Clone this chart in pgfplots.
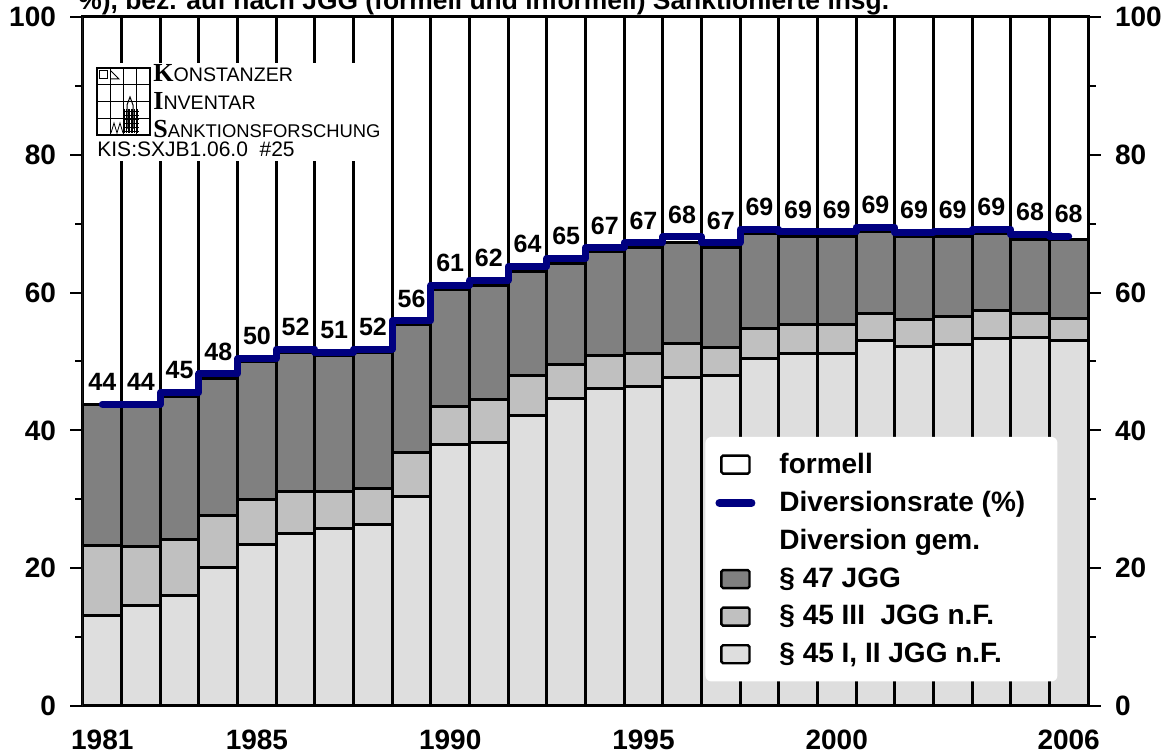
\documentclass[border=0pt]{standalone}
\usepackage{fontspec}
\setmainfont{Liberation Sans}
\newfontfamily\serifb{Liberation Serif}
\usepackage{pgfplots}
\pgfplotsset{compat=1.18}
\usepackage{pgfplotstable}
\usetikzlibrary{calc}

\definecolor{lightb}{HTML}{DEDEDE}
\definecolor{midb}{HTML}{C0C0C0}
\definecolor{darkb}{HTML}{808080}
\definecolor{navyl}{HTML}{000080}

% a = § 45 I,II ; b = § 45 III ; c = § 47 ; d = formell ; r = Diversionsrate
\pgfplotstableread{
year a b c d r lab
1981 13.1 10.2 20.5 56.2 43.8 44
1982 14.6 8.5 20.6 56.3 43.8 44
1983 16.1 8.0 20.8 55.1 45.5 45
1984 20.1 7.5 20.0 52.4 48.2 48
1985 23.5 6.5 20.0 50.0 50.4 50
1986 25.1 6.1 20.1 48.7 51.8 52
1987 25.8 5.3 19.7 49.2 51.3 51
1988 26.3 5.3 19.7 48.7 51.8 52
1989 30.4 6.4 18.5 44.7 55.9 56
1990 38.0 5.5 17.0 39.5 61.1 61
1991 38.2 6.3 16.5 39.0 61.8 62
1992 42.2 5.7 15.2 36.9 63.8 64
1993 44.6 5.0 14.6 35.8 65.0 65
1994 46.1 4.8 15.0 34.1 66.5 67
1995 46.3 4.9 15.3 33.5 67.2 67
1996 47.7 4.9 14.7 32.7 68.1 68
1997 47.9 4.2 14.4 33.5 67.2 67
1998 50.4 4.4 13.8 31.4 69.2 69
1999 51.2 4.1 12.9 31.8 68.8 69
2000 51.2 4.1 12.9 31.8 68.8 69
2001 53.1 3.9 11.8 31.2 69.5 69
2002 52.2 3.9 12.0 31.9 68.7 69
2003 52.4 4.2 11.6 31.8 68.8 69
2004 53.4 4.0 11.2 31.4 69.2 69
2005 53.5 3.4 10.8 32.3 68.4 68
2006 53.0 3.3 11.4 32.3 68.2 68
}\data

\pgfplotsset{
  common/.style={
    scale only axis, width=502.5pt, height=344.5pt,
    xmin=1980.5, xmax=2006.5, ymin=0, ymax=100,
    enlargelimits=false,
    /pgf/number format/1000 sep={},
    /pgf/number format/assume math mode=true,
    tick label style={font=\fontsize{14}{16}\selectfont\bfseries},
    ytick={0,20,...,100}, minor ytick={10,30,...,90},
    tick align=outside,
    major tick length=6.5pt, minor tick length=4pt,
    tick style={line width=1pt, black},
    axis line style={line width=1.5pt},
  }
}

\begin{document}
\begin{tikzpicture}
\begin{axis}[common, name=main,
  ybar stacked, bar width=1,
  xtick={1981,1985,1990,1995,2000,2006},
  xtick style={draw=none},
  xticklabel style={yshift=-2pt},
  yticklabel style={xshift=-3.5pt},
  ytick pos=left,
  legend cell align=left,
  legend style={at={(0.970,0.035)}, anchor=south east,
    fill=white, draw=none, rounded corners=3pt,
    font=\fontsize{14}{16}\selectfont\bfseries,
    row sep=3.5pt, inner xsep=5pt, inner ysep=6pt,
    /tikz/every odd column/.append style={column sep=10pt}},
]
\addplot+[forget plot, fill=lightb, draw=black, line width=1.5pt] table[x=year, y=a] {\data};
\addplot+[forget plot, fill=midb, draw=black, line width=1.5pt] table[x=year, y=b] {\data};
\addplot+[forget plot, fill=darkb, draw=black, line width=1.5pt] table[x=year, y=c] {\data};
\addplot+[forget plot, fill=white, draw=black, line width=1.5pt] table[x=year, y=d] {\data};

\addlegendimage{legend image code/.code={\draw[fill=white, line width=1.2pt, rounded corners=0.8pt] (0pt,-4.5pt) rectangle (14pt,4.5pt);}}
\addlegendentry{\makebox[132pt][l]{formell}}
\addlegendimage{legend image code/.code={\draw[navyl, line width=4pt, line cap=round] (-1pt,0pt) -- (15pt,0pt);}}
\addlegendentry{Diversionsrate (\%)}
\addlegendimage{empty legend}
\addlegendentry{Diversion gem.}
\addlegendimage{legend image code/.code={\draw[fill=darkb, line width=1.2pt, rounded corners=0.8pt] (0pt,-4.5pt) rectangle (14pt,4.5pt);}}
\addlegendentry{\S\ 47 JGG}
\addlegendimage{legend image code/.code={\draw[fill=midb, line width=1.2pt, rounded corners=0.8pt] (0pt,-4.5pt) rectangle (14pt,4.5pt);}}
\addlegendentry{\S\ 45 III\ \ JGG n.F.}
\addlegendimage{legend image code/.code={\draw[fill=lightb, line width=1.2pt, rounded corners=0.8pt] (0pt,-4.5pt) rectangle (14pt,4.5pt);}}
\addlegendentry{\S\ 45 I, II JGG n.F.}
\end{axis}

\begin{axis}[common,
  axis x line=none, axis y line*=right,
  ytick pos=right, yticklabel pos=right,
  yticklabel style={xshift=3.5pt},
]
\addplot[navyl, line width=3.5pt, const plot mark mid, line cap=round, line join=round,
  nodes near coords, point meta=explicit symbolic,
  every node near coord/.append style={font=\fontsize{12.5}{14}\selectfont\bfseries, black, inner sep=0pt, yshift=5pt}]
  table[x=year, y=r, meta=lab] {\data};
\end{axis}

% logo
\begin{scope}[shift={(main.north west)}]
\fill[white] (6pt,-23pt) rectangle (150pt,-72pt);
\draw[line width=0.9pt] (7pt,-25.5pt) rectangle (33.5pt,-59pt);
\foreach \xx in {13.6,20.2,26.9} \draw[line width=0.5pt] (\xx pt,-25.5pt) -- (\xx pt,-59pt);
\foreach \yy in {-33.9,-42.2,-50.6} \draw[line width=0.5pt] (7pt,\yy pt) -- (33.5pt,\yy pt);
\draw[line width=0.5pt] (8pt,-27pt) rectangle (12pt,-31pt);
\draw[line width=0.5pt] (14pt,-27pt) -- (18pt,-31pt) -- (14pt,-31pt);
\draw[line width=0.5pt] (22pt,-56pt) -- (22pt,-44pt) -- (23.5pt,-40pt) -- (25pt,-44pt) -- (25pt,-56pt);
\foreach \xx in {20.8,21.6,22.4,23.2,24,24.8,25.6,26.4,27.2} \draw[line width=0.3pt] (\xx pt,-46pt) -- (\xx pt,-58pt);
\foreach \yy in {-47,-49,-51,-53,-55,-57} \draw[line width=0.3pt] (20.5pt,\yy pt) -- (28pt,\yy pt);
\draw[line width=0.4pt] (14pt,-58pt) -- (15.5pt,-53pt) -- (17pt,-58pt) -- (18.5pt,-53pt) -- (20pt,-58pt);
\node[anchor=base west, inner sep=0pt] at (35pt,-32.5pt) {{\serifb\bfseries\fontsize{13}{13}\selectfont K}{\fontsize{9.8}{10}\selectfont ONSTANZER}};
\node[anchor=base west, inner sep=0pt] at (35pt,-46.5pt) {{\serifb\bfseries\fontsize{13}{13}\selectfont I}{\fontsize{9.8}{10}\selectfont NVENTAR}};
\node[anchor=base west, inner sep=0pt] at (35pt,-60.5pt) {{\serifb\bfseries\fontsize{13}{13}\selectfont S}{\fontsize{9.2}{10}\selectfont ANKTIONSFORSCHUNG}};
\node[anchor=base west, inner sep=0pt] at (7pt,-70pt) {\fontsize{10.5}{12}\selectfont KIS:SXJB1.06.0\ \ \#25};
\end{scope}

% cut-off title line
\node[anchor=base west, inner sep=0pt, font=\fontsize{13.2}{16}\selectfont\bfseries] at ($(main.north west)+(-2.5pt,3.5pt)$) {\%), bez. auf nach JGG (formell und informell) Sanktionierte insg.};

\pgfresetboundingbox
\path[use as bounding box] ($(main.south west)+(-41.5pt,-23.5pt)$) rectangle ($(main.south west)+(545pt,353pt)$);
\end{tikzpicture}
\end{document}
